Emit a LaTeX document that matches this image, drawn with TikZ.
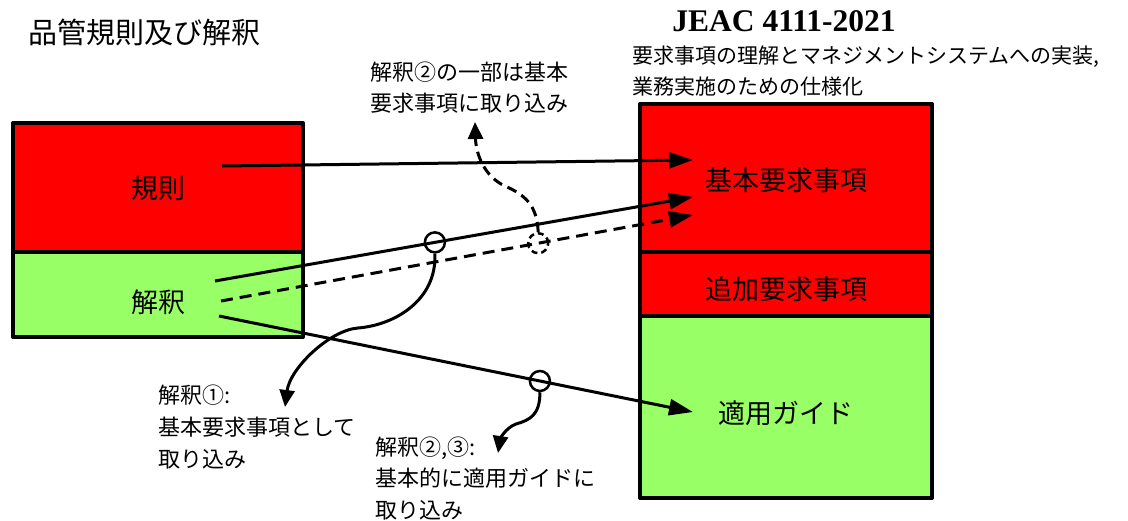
\documentclass[tikz,border=0pt]{standalone}
\usepackage{fontspec}
\setmainfont{Noto Sans CJK JP}
\newfontfamily\jeacfont{Liberation Serif}
\usetikzlibrary{arrows.meta}
\definecolor{rulered}{HTML}{FF0000}
\definecolor{guidegreen}{HTML}{99FF66}
\tikzset{
  box/.style={draw=black, line width=4pt, line join=round, inner sep=0pt, rectangle},
  boxlabel/.style={inner sep=0pt, font=\fontsize{27}{32}\selectfont},
  note/.style={anchor=base west, align=left, inner sep=0pt, font=\fontsize{22}{32}\selectfont},
  link/.style={line width=3pt, -{Triangle[length=24pt,width=16pt]}},
  dashlink/.style={link, dash pattern=on 12pt off 7pt},
  curl/.style={line width=3pt, -{Triangle[length=17pt,width=15pt]}},
  mark circle/.style={circle, draw=black, line width=2.5pt, minimum size=20pt, inner sep=0pt},
}
\begin{document}
\begin{tikzpicture}[x=1pt,y=-1pt]
\useasboundingbox (0,0) rectangle (1128,520);

% titles
\node[anchor=west, inner sep=0pt, font=\fontsize{29}{34}\selectfont] (title) at (28,32) {品管規則及び解釈};
\node[inner sep=0pt, font=\jeacfont\bfseries\fontsize{31.5}{36}\selectfont] (jeac) at (784,21) {JEAC 4111-2021};
\node[anchor=base west, align=left, inner sep=0pt, font=\fontsize{21}{31}\selectfont] (desc) at (632,94)
  {要求事項の理解とマネジメントシステムへの実装,\\業務実施のための仕様化};

% left stack
\node[box, fill=rulered, minimum width=290pt, minimum height=129pt] (rule) at (158,187.5) {};
\node[box, fill=guidegreen, minimum width=290pt, minimum height=85pt] (interp) at (158,294.5) {};
\node[boxlabel] (ruleT) at (158,188) {規則};
\node[boxlabel] (interpT) at (158,302) {解釈};

% right stack
\node[box, fill=rulered, minimum width=292pt, minimum height=148pt] (basic) at (786,178) {};
\node[box, fill=rulered, minimum width=292pt, minimum height=64pt] (addl) at (786,284) {};
\node[box, fill=guidegreen, minimum width=292pt, minimum height=182pt] (guide) at (786,407) {};
\node[boxlabel] (basicT) at (786,180) {基本要求事項};
\node[boxlabel] (addlT) at (786,289) {追加要求事項};
\node[boxlabel] (guideT) at (786,413) {適用ガイド};

% connector ends
\coordinate (s1) at (222,166);
\coordinate (e1) at (693,160);
\coordinate (s2) at (215,281);
\coordinate (e2) at (693,197);
\coordinate (s3) at (221,301);
\coordinate (e3) at (693,215);
\coordinate (s4) at (219,316);
\coordinate (e4) at (693,412);

\draw[link] (s1) -- (e1);
\draw[link] (s2) -- node[mark circle, pos=0.46] (c1) {} (e2);
\draw[dashlink] (s3) -- node[mark circle, pos=0.672, dash pattern=on 6pt off 4pt] (c2) {} (e3);
\draw[link] (s4) -- node[mark circle, pos=0.677] (c3) {} (e4);

% notes (base anchor = baseline of last line)
\node[note] (n1) at (158,467) {解釈①:\\基本要求事項として\\取り込み};
\node[note, font=\fontsize{22}{31.5}\selectfont] (n2) at (375,518) {解釈②,③:\\基本的に適用ガイドに\\取り込み};
\node[note, font=\fontsize{22}{31}\selectfont] (n3) at (370,111) {解釈②の一部は基本\\要求事項に取り込み};

\coordinate (t1) at (285,407);
\coordinate (t2) at (498,453);
\coordinate (t3) at (475,122);

\draw[curl] (c1.south) .. controls (437,300) and (395,325) .. (358,328)
  .. controls (330,330) and (290,368) .. (t1);
\draw[curl] (c3.south) .. controls (540,415) and (530,420) .. (516,424)
  .. controls (505,428) and (500,440) .. (t2);
\draw[curl, dash pattern=on 10pt off 6pt] (c2.north) .. controls (537,205) and (525,195) .. (505,186)
  .. controls (485,177) and (476,155) .. (t3);
\end{tikzpicture}
\end{document}
